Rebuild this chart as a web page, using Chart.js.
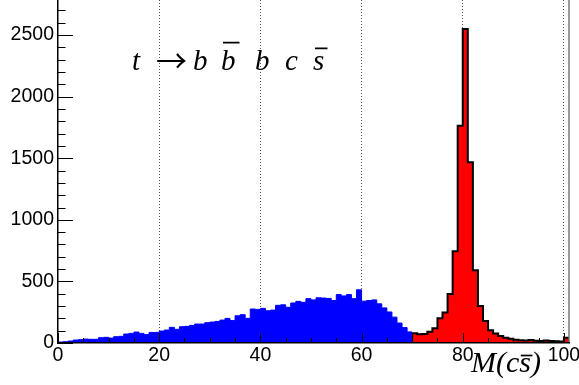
<!DOCTYPE html>
<html><head><meta charset="utf-8">
<script src="https://cdn.jsdelivr.net/npm/chart.js@4.4.0/dist/chart.umd.min.js"></script>
<style>html,body{margin:0;padding:0;background:#fff;}#wrap{width:579px;height:385px;}</style>
</head><body><div id="wrap"><canvas id="c" width="579" height="385"></canvas></div>
<script>
// ---- data ----
const binWidth = 1;
const blueStart = 0;
const blueCounts = [8,11,16,24,27,32,30,30,43,46,40,51,54,73,78,89,78,68,86,86,
  97,105,127,111,132,135,143,154,154,165,170,175,186,200,182,221,230,200,276,273,
  281,262,267,306,310,290,325,338,330,360,350,367,365,362,345,393,382,393,360,432,
  340,345,350,318,285,252,210,162,125,90];
const redStart = 70;
const redCounts = [80,72,74,92,120,200,248,398,744,1763,2549,1467,590,300,178,103,78,57,43,35,
  27,22,20,24,18,16,20,17,14,12,43];
const xTickLabels = [0,20,40,60,80,100];
const yTickLabels = [0,500,1000,1500,2000,2500];
const xMinorStep = 5, yMinorStep = 100;
const xRange = [0, 101];
const yRange = [0, 2785];

function stepPoints(start, counts, closed) {
  const pts = counts.map((v, i) => ({x: start + i * binWidth, y: v}));
  pts.push({x: start + counts.length * binWidth, y: counts[counts.length - 1]});
  if (closed) {
    pts.unshift({x: start, y: 0});
    pts.push({x: start + counts.length * binWidth, y: 0});
  }
  return pts;
}

const FONT_SANS = '"Liberation Sans", Arial, Helvetica, sans-serif';
const FONT_SERIF = '"Liberation Serif", "Times New Roman", "DejaVu Serif", serif';

const decor = {
  id: 'decor',
  afterDatasetsDraw(chart) {
    const {ctx, chartArea: a, scales: {x, y}} = chart;
    ctx.save();
    ctx.strokeStyle = '#000';
    ctx.lineWidth = 1;
    ctx.beginPath();
    for (let v = xRange[0]; v <= 100; v += xMinorStep) {
      const px = Math.round(x.getPixelForValue(v)) + 0.5;
      const len = xTickLabels.includes(v) ? 10 : 5;
      ctx.moveTo(px, a.bottom); ctx.lineTo(px, a.bottom - len);
    }
    for (let v = 0; v <= yRange[1]; v += yMinorStep) {
      const py = Math.round(y.getPixelForValue(v)) + 0.5;
      const len = yTickLabels.includes(v) ? 15 : 7.5;
      ctx.moveTo(a.left, py); ctx.lineTo(a.left + len, py);
    }
    ctx.stroke();
    ctx.strokeStyle = '#777';
    ctx.lineWidth = 1.5;
    ctx.beginPath();
    ctx.moveTo(a.right, a.top); ctx.lineTo(a.right, a.bottom);
    ctx.stroke();
    ctx.restore();
  },
  afterDraw(chart) {
    const ctx = chart.ctx;
    ctx.save();
    ctx.fillStyle = '#000';
    ctx.strokeStyle = '#000';
    ctx.textBaseline = 'alphabetic';
    ctx.textAlign = 'left';
    const it = 'italic 29px ' + FONT_SERIF;
    ctx.font = it;
    const base = 69.5;
    ctx.fillText('t', 132, base);
    ctx.font = '31px "Noto Sans CJK JP", "DejaVu Sans", sans-serif';
    ctx.fillText('\u2192', 156, 71.5);
    ctx.font = it;
    ctx.fillText('b', 193, base);
    ctx.fillText('b', 221, base);
    ctx.fillText('b', 255, base);
    ctx.fillText('c', 285, base);
    ctx.fillText('s', 313, base);
    ctx.lineWidth = 1.7;
    ctx.beginPath();
    ctx.moveTo(223, 42.7); ctx.lineTo(239.5, 42.7);
    ctx.moveTo(315, 48.3); ctx.lineTo(327.5, 48.3);
    ctx.stroke();
    ctx.font = 'italic 30px ' + FONT_SERIF;
    const tb = 371.5;
    const tx = 471;
    ctx.fillText('M(cs)', tx, tb);
    const wM = ctx.measureText('M(c').width;
    const wS = ctx.measureText('s').width;
    ctx.beginPath();
    ctx.moveTo(tx + wM + 1.5, 355.5); ctx.lineTo(tx + wM + wS + 1.5, 355.5);
    ctx.stroke();
    ctx.restore();
  }
};

new Chart(document.getElementById('c'), {
  type: 'line',
  data: {
    datasets: [
      {
        label: 'blue',
        data: stepPoints(blueStart, blueCounts, false),
        stepped: 'before',
        fill: 'origin',
        backgroundColor: '#0000ff',
        borderColor: '#0000ff',
        borderWidth: 1,
        pointRadius: 0,
        tension: 0
      },
      {
        label: 'red',
        data: stepPoints(redStart, redCounts, true),
        stepped: 'before',
        fill: 'origin',
        backgroundColor: '#ff0000',
        borderColor: '#000000',
        borderWidth: 2,
        pointRadius: 0,
        tension: 0
      }
    ]
  },
  options: {
    responsive: false,
    animation: false,
    devicePixelRatio: 1,
    layout: {padding: {left: 0, right: 10, top: 0, bottom: 0}},
    plugins: {legend: {display: false}, tooltip: {enabled: false}},
    scales: {
      x: {
        type: 'linear',
        min: xRange[0], max: xRange[1],
        afterBuildTicks: s => { s.ticks = xTickLabels.map(v => ({value: v})); },
        afterFit: s => { s.height = 42; s.paddingLeft = 0; s.paddingRight = 0; },
        ticks: {
          font: {family: FONT_SANS, size: 19.5},
          color: '#000',
          padding: 1,
          maxRotation: 0,
          autoSkip: false,
          callback: v => String(v)
        },
        grid: {
          drawTicks: false,
          lineWidth: 1,
          color: c => (c.tick && c.tick.value === 0) ? 'rgba(0,0,0,0)' : '#555'
        },
        border: {display: true, color: '#000', width: 1.5, dash: [1, 2], z: 1}
      },
      y: {
        type: 'linear',
        min: yRange[0], max: yRange[1],
        afterBuildTicks: s => { s.ticks = yTickLabels.map(v => ({value: v})); },
        afterFit: s => { s.width = 58; s.paddingTop = 0; s.paddingBottom = 0; },
        ticks: {
          font: {family: FONT_SANS, size: 19.5},
          color: '#000',
          padding: 4,
          autoSkip: false,
          callback: v => String(v)
        },
        grid: {display: false, drawTicks: false},
        border: {display: true, color: '#000', width: 1.5, z: 1}
      }
    }
  },
  plugins: [decor]
});
</script>
</body></html>
